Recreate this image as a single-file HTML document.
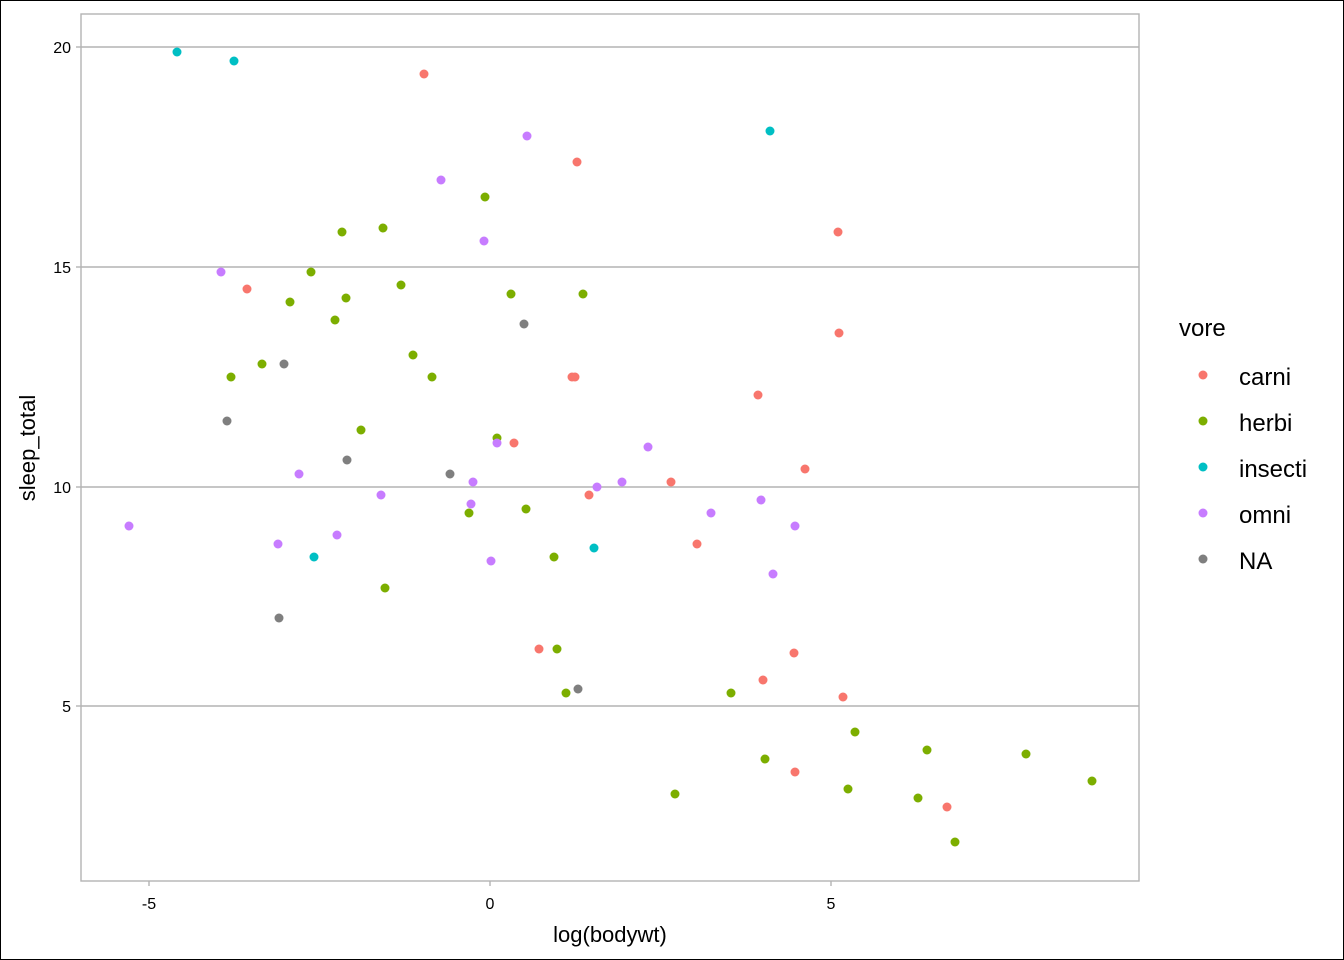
<!DOCTYPE html>
<html><head><style>body{margin:0;background:#fff}svg{display:block}</style></head><body>
<svg width="1344" height="960" xmlns="http://www.w3.org/2000/svg" font-family="Liberation Sans, sans-serif">
<rect x="0.5" y="0.5" width="1343" height="959" fill="#fff" stroke="#000"/>
<g stroke="#b3b3b3" stroke-width="1.4">
<line x1="81" x2="1139" y1="47" y2="47"/><line x1="81" x2="1139" y1="267" y2="267"/>
<line x1="81" x2="1139" y1="487" y2="487"/><line x1="81" x2="1139" y1="706" y2="706"/>
</g>
<rect x="81" y="14" width="1058" height="867" fill="none" stroke="#b3b3b3" stroke-width="1.4"/>
<g stroke="#b3b3b3" stroke-width="1.4">
<line x1="149" x2="149" y1="881" y2="886"/><line x1="490" x2="490" y1="881" y2="886"/><line x1="831" x2="831" y1="881" y2="886"/>
<line x1="76" x2="81" y1="47" y2="47"/><line x1="76" x2="81" y1="267" y2="267"/><line x1="76" x2="81" y1="487" y2="487"/><line x1="76" x2="81" y1="706" y2="706"/>
</g>
<g font-size="16" fill="#000" text-anchor="end">
<text x="71" y="53">20</text><text x="71" y="273">15</text><text x="71" y="493">10</text><text x="71" y="712">5</text>
</g>
<g font-size="16" fill="#000" text-anchor="middle">
<text x="149" y="909">-5</text><text x="490" y="909">0</text><text x="831" y="909">5</text>
</g>
<text x="610" y="942" font-size="22" text-anchor="middle">log(bodywt)</text>
<text transform="translate(35,448) rotate(-90)" font-size="22" text-anchor="middle">sleep_total</text>
<g transform="translate(1,1)">
<g fill="#F8766D">
<circle cx="423" cy="73" r="4.5"/><circle cx="576" cy="161" r="4.5"/><circle cx="837" cy="231" r="4.5"/><circle cx="246" cy="288" r="4.5"/><circle cx="838" cy="332" r="4.5"/><circle cx="571" cy="376" r="4.5"/><circle cx="574" cy="376" r="4.5"/><circle cx="757" cy="394" r="4.5"/><circle cx="513" cy="442" r="4.5"/><circle cx="804" cy="468" r="4.5"/><circle cx="670" cy="481" r="4.5"/><circle cx="588" cy="494" r="4.5"/><circle cx="696" cy="543" r="4.5"/><circle cx="538" cy="648" r="4.5"/><circle cx="793" cy="652" r="4.5"/><circle cx="762" cy="679" r="4.5"/><circle cx="842" cy="696" r="4.5"/><circle cx="794" cy="771" r="4.5"/><circle cx="946" cy="806" r="4.5"/>
</g>
<g fill="#7CAE00">
<circle cx="484" cy="196" r="4.5"/><circle cx="341" cy="231" r="4.5"/><circle cx="382" cy="227" r="4.5"/><circle cx="310" cy="271" r="4.5"/><circle cx="289" cy="301" r="4.5"/><circle cx="345" cy="297" r="4.5"/><circle cx="400" cy="284" r="4.5"/><circle cx="334" cy="319" r="4.5"/><circle cx="510" cy="293" r="4.5"/><circle cx="582" cy="293" r="4.5"/><circle cx="230" cy="376" r="4.5"/><circle cx="261" cy="363" r="4.5"/><circle cx="412" cy="354" r="4.5"/><circle cx="431" cy="376" r="4.5"/><circle cx="360" cy="429" r="4.5"/><circle cx="496" cy="437" r="4.5"/><circle cx="468" cy="512" r="4.5"/><circle cx="525" cy="508" r="4.5"/><circle cx="553" cy="556" r="4.5"/><circle cx="384" cy="587" r="4.5"/><circle cx="556" cy="648" r="4.5"/><circle cx="565" cy="692" r="4.5"/><circle cx="730" cy="692" r="4.5"/><circle cx="854" cy="731" r="4.5"/><circle cx="764" cy="758" r="4.5"/><circle cx="926" cy="749" r="4.5"/><circle cx="1025" cy="753" r="4.5"/><circle cx="674" cy="793" r="4.5"/><circle cx="847" cy="788" r="4.5"/><circle cx="917" cy="797" r="4.5"/><circle cx="1091" cy="780" r="4.5"/><circle cx="954" cy="841" r="4.5"/>
</g>
<g fill="#00BFC4">
<circle cx="176" cy="51" r="4.5"/><circle cx="233" cy="60" r="4.5"/><circle cx="769" cy="130" r="4.5"/><circle cx="313" cy="556" r="4.5"/><circle cx="593" cy="547" r="4.5"/>
</g>
<g fill="#C77CFF">
<circle cx="526" cy="135" r="4.5"/><circle cx="440" cy="179" r="4.5"/><circle cx="483" cy="240" r="4.5"/><circle cx="220" cy="271" r="4.5"/><circle cx="298" cy="473" r="4.5"/><circle cx="380" cy="494" r="4.5"/><circle cx="472" cy="481" r="4.5"/><circle cx="496" cy="442" r="4.5"/><circle cx="470" cy="503" r="4.5"/><circle cx="128" cy="525" r="4.5"/><circle cx="277" cy="543" r="4.5"/><circle cx="336" cy="534" r="4.5"/><circle cx="490" cy="560" r="4.5"/><circle cx="596" cy="486" r="4.5"/><circle cx="621" cy="481" r="4.5"/><circle cx="647" cy="446" r="4.5"/><circle cx="710" cy="512" r="4.5"/><circle cx="760" cy="499" r="4.5"/><circle cx="794" cy="525" r="4.5"/><circle cx="772" cy="573" r="4.5"/>
</g>
<g fill="#7F7F7F">
<circle cx="283" cy="363" r="4.5"/><circle cx="523" cy="323" r="4.5"/><circle cx="226" cy="420" r="4.5"/><circle cx="346" cy="459" r="4.5"/><circle cx="449" cy="473" r="4.5"/><circle cx="278" cy="617" r="4.5"/><circle cx="577" cy="688" r="4.5"/>
</g>
</g>
<text x="1179" y="336" font-size="24">vore</text>
<g font-size="24">
<circle cx="1203" cy="375" r="4.5" fill="#F8766D"/><text x="1239" y="385">carni</text>
<circle cx="1203" cy="421" r="4.5" fill="#7CAE00"/><text x="1239" y="431">herbi</text>
<circle cx="1203" cy="467" r="4.5" fill="#00BFC4"/><text x="1239" y="477">insecti</text>
<circle cx="1203" cy="513" r="4.5" fill="#C77CFF"/><text x="1239" y="523">omni</text>
<circle cx="1203" cy="559" r="4.5" fill="#7F7F7F"/><text x="1239" y="569">NA</text>
</g>
</svg>
</body></html>
